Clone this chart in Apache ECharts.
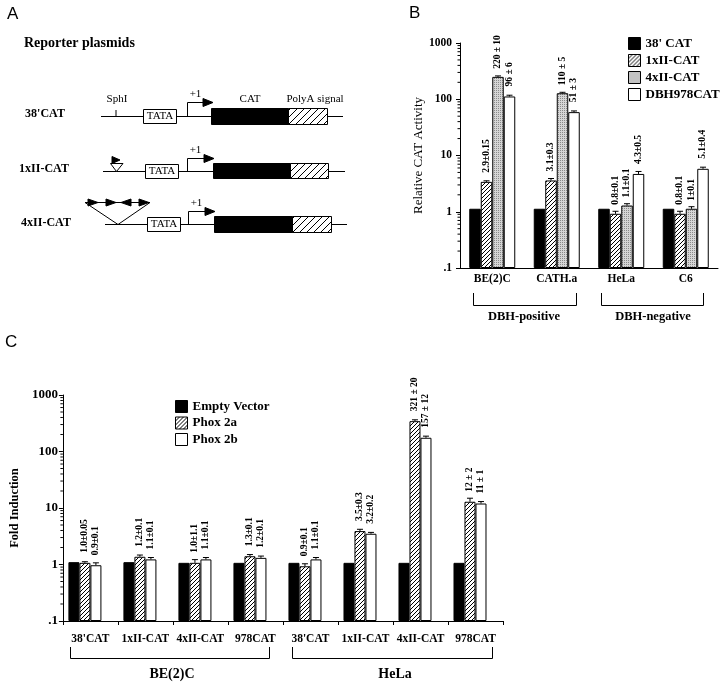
<!DOCTYPE html>
<html><head><meta charset="utf-8">
<script src="https://cdn.jsdelivr.net/npm/echarts@6/dist/echarts.min.js"></script>
<style>html,body{margin:0;padding:0;background:#fff}#c{width:720px;height:683px}</style>
</head><body><div id="c"></div>
<script>
// ---------- Panel B data ----------
const bCategories = ['BE(2)C', 'CATH.a', 'HeLa', 'C6'];
const bSeriesNames = ["38' CAT", '1xII-CAT', '4xII-CAT', 'DBH978CAT'];
const b38CAT = [1.13, 1.13, 1.13, 1.13];
const b1xII = [3.4, 3.6, 0.92, 0.92];
const b4xII = [250, 128, 1.29, 1.13];
const bDBH978 = [112, 59, 4.7, 5.8];
const b1xIIErr = [0.15, 0.3, 0.1, 0.1];
const b4xIIErr = [10, 5, 0.1, 0.1];
const bDBH978Err = [6, 3, 0.5, 0.4];
const b1xIILabels = ['2.9±0.15', '3.1±0.3', '0.8±0.1', '0.8±0.1'];
const b4xIILabels = ['220 ± 10', '110 ± 5', '1.1±0.1', '1±0.1'];
const bDBH978Labels = ['96 ± 6', '51 ± 3', '4.3±0.5', '5.1±0.4'];
const bGroups = ['DBH-positive', 'DBH-negative'];

// ---------- Panel C data ----------
const cCategories = ["38'CAT", '1xII-CAT', '4xII-CAT', '978CAT', "38'CAT", '1xII-CAT', '4xII-CAT', '978CAT'];
const cSeriesNames = ['Empty Vector', 'Phox 2a', 'Phox 2b'];
const cEmpty = [1.1, 1.1, 1.07, 1.07, 1.07, 1.07, 1.07, 1.07];
const cPhox2a = [1.07, 1.37, 1.07, 1.4, 0.93, 3.9, 344, 12.9];
const cPhox2b = [0.97, 1.23, 1.23, 1.31, 1.23, 3.5, 175, 12.0];
const cPhox2aErr = [0.05, 0.1, 0.15, 0.1, 0.1, 0.3, 20, 2];
const cPhox2bErr = [0.1, 0.1, 0.1, 0.1, 0.1, 0.2, 12, 1];
const cPhox2aLabels = ['1.0±0.05', '1.2±0.1', '1.0±1.1', '1.3±0.1', '0.9±0.1', '3.5±0.3', '321 ± 20', '12 ± 2'];
const cPhox2bLabels = ['0.9±0.1', '1.1±0.1', '1.1±0.1', '1.2±0.1', '1.1±0.1', '3.2±0.2', '157 ± 12', '11 ± 1'];
const cGroups = ['BE(2)C', 'HeLa'];

// ---------- Axis ticks ----------
const logTickLabels = {0.1: '.1', 1: '1', 10: '10', 100: '100', 1000: '1000'};

const SERIF = '"Liberation Serif", "Times New Roman", serif';

function hatch(size, lw) {
  const c = document.createElement('canvas'); c.width = c.height = size;
  const g = c.getContext('2d');
  g.fillStyle = '#fff'; g.fillRect(0, 0, size, size);
  g.strokeStyle = '#000'; g.lineWidth = lw;
  g.beginPath();
  g.moveTo(0, size); g.lineTo(size, 0);
  g.moveTo(-2, 2); g.lineTo(2, -2);
  g.moveTo(size - 2, size + 2); g.lineTo(size + 2, size - 2);
  g.stroke();
  return c;
}
function dots() {
  const c = document.createElement('canvas'); c.width = c.height = 2;
  const g = c.getContext('2d');
  g.fillStyle = '#d6d6d6'; g.fillRect(0, 0, 2, 2);
  g.fillStyle = '#8a8a8a'; g.fillRect(0, 0, 1, 1);
  return c;
}
const hatchFill = {image: hatch(4, 1), repeat: 'repeat'};
const dotFill = {image: dots(), repeat: 'repeat'};
const hatchBig = {image: hatch(7, 1), repeat: 'repeat'};

function barSeries(name, xi, yi, data, fill, labels, dist, width) {
  const s = {
    name, type: 'bar', xAxisIndex: xi, yAxisIndex: yi, data,
    barWidth: width, barGap: '0%',
    itemStyle: {color: fill, borderColor: '#000', borderWidth: 1},
    emphasis: {disabled: true}
  };
  if (labels) {
    s.label = {
      show: true, position: 'top', distance: dist, rotate: 90,
      align: 'left', verticalAlign: 'middle',
      fontFamily: SERIF, fontWeight: 'bold', fontSize: 9.5, color: '#000',
      formatter: p => labels[p.dataIndex]
    };
  }
  return s;
}
function errSeries(xi, yi, values, errs, slot, nSlots, bw) {
  return {
    type: 'custom', xAxisIndex: xi, yAxisIndex: yi, silent: true, z: 5,
    data: values.map((v, i) => [i, v, errs[i]]),
    renderItem(params, api) {
      const i = api.value(0), v = api.value(1), e = api.value(2);
      const c = api.coord([i, v]);
      const x = c[0] + (slot - (nSlots - 1) / 2) * bw;
      const top = api.coord([i, v + e])[1];
      return {type: 'group', children: [
        {type: 'line', shape: {x1: x, y1: top, x2: x, y2: c[1]}, style: {stroke: '#000', lineWidth: 1}},
        {type: 'line', shape: {x1: x - 3, y1: top, x2: x + 3, y2: top}, style: {stroke: '#000', lineWidth: 1}}
      ]};
    }
  };
}
function minorTicks(xi, yi) {
  const vals = [];
  [0.1, 1, 10, 100].forEach(d => { for (let m = 2; m <= 9; m++) vals.push([0, d * m]); });
  return {
    type: 'custom', xAxisIndex: xi, yAxisIndex: yi, silent: true, z: 6, data: vals,
    renderItem(params, api) {
      const p = api.coord([0, api.value(1)]);
      const x0 = p[0] - api.size([1, 0])[0] / 2;
      return {type: 'line', shape: {x1: x0 - 2.5, y1: p[1], x2: x0, y2: p[1]}, style: {stroke: '#000', lineWidth: 1}};
    }
  };
}

function yAxisCfg(gi, fontSize, margin, name, nameGap, nameBold, nameSize) {
  return {
    gridIndex: gi, type: 'log', logBase: 10, min: 0.1, max: 1000, startValue: 0.1,
    axisLine: {show: true, lineStyle: {color: '#000', width: 1}},
    axisTick: {show: true, length: 4, lineStyle: {color: '#000'}},
    splitLine: {show: false},
    axisLabel: {color: '#000', fontFamily: SERIF, fontWeight: 'bold', fontSize, margin,
      formatter: v => logTickLabels[Math.round(v * 10) / 10] || ''},
    name, nameLocation: 'middle', nameGap, nameRotate: 90,
    nameTextStyle: {color: '#000', fontFamily: SERIF, fontWeight: nameBold ? 'bold' : 'normal', fontSize: nameSize}
  };
}

// ---------- graphic helpers ----------
const G = [];
function txt(text, x, y, size, bold, align, family) {
  G.push({type: 'text', silent: true, style: {text, x, y, fill: '#000',
    font: (bold ? 'bold ' : '') + size + 'px ' + (family || SERIF),
    textAlign: align || 'center', textVerticalAlign: 'middle', align: align || 'center', verticalAlign: 'middle'}});
}
function ln(pts, dash) {
  G.push({type: 'polyline', silent: true, shape: {points: pts}, style: {stroke: '#000', fill: null, lineWidth: 1, lineDash: dash || null}});
}
function poly(pts, fill) {
  G.push({type: 'polygon', silent: true, shape: {points: pts}, style: {stroke: '#000', fill, lineWidth: 1}});
}
function rect(x, y, w, h, fill) {
  G.push({type: 'rect', silent: true, shape: {x, y, width: w, height: h}, style: {stroke: '#000', fill, lineWidth: 1}});
}

// Panel letters
txt('A', 7, 14, 17, false, 'left', 'Liberation Sans, Arial, sans-serif');
txt('B', 409, 13, 17, false, 'left', 'Liberation Sans, Arial, sans-serif');
txt('C', 5, 342, 17, false, 'left', 'Liberation Sans, Arial, sans-serif');

// Panel A diagram
txt('Reporter plasmids', 24, 43, 14, true, 'left');
function promoter(xv, y, yTop, headEnd) {
  ln([[xv, y], [xv, yTop], [headEnd - 9, yTop]]);
  poly([[headEnd - 10, yTop - 4], [headEnd, yTop], [headEnd - 10, yTop + 4]], '#000');
  txt('+1', xv + 8, yTop - 8, 11, false);
}
// row 1
txt("38'CAT", 45, 114, 12, true);
ln([[101, 116.5], [343, 116.5]]);
ln([[116, 110], [116, 116.5]]);
txt('SphI', 117, 99, 11, false);
rect(143.5, 109.5, 33, 14, '#fff'); txt('TATA', 160, 116.5, 11, false);
promoter(187.5, 116.5, 102.5, 213);
rect(211.5, 108.5, 77, 16, '#000');
rect(288.5, 108.5, 39, 16, hatchBig);
txt('CAT', 250, 99, 11, false);
txt('PolyA signal', 315, 99, 11, false);
// row 2
txt('1xII-CAT', 44, 169, 12, true);
ln([[103, 171.5], [345, 171.5]]);
poly([[110.5, 163.5], [123, 163.5], [116.5, 171.5]], '#fff');
poly([[112, 156.5], [120, 160], [112, 163.5]], '#000');
rect(145.5, 164.5, 33, 14, '#fff'); txt('TATA', 162, 171.5, 11, false);
promoter(187.5, 171.5, 158.5, 214);
rect(213.5, 163.5, 77, 15, '#000');
rect(290.5, 163.5, 38, 15, hatchBig);
// row 3
txt('4xII-CAT', 46, 223, 12, true);
ln([[105, 224.5], [347, 224.5]]);
ln([[85, 202.5], [118, 224.5], [150, 202.5]]);
ln([[85, 202.5], [150, 202.5]]);
poly([[88, 199], [98, 202.5], [88, 206]], '#000');
poly([[106, 199], [116, 202.5], [106, 206]], '#000');
poly([[131, 199], [121, 202.5], [131, 206]], '#000');
poly([[139, 199], [149, 202.5], [139, 206]], '#000');
rect(147.5, 217.5, 33, 14, '#fff'); txt('TATA', 164, 224.5, 11, false);
promoter(188.5, 224.5, 211.5, 215);
rect(214.5, 216.5, 78, 16, '#000');
rect(292.5, 216.5, 39, 16, hatchBig);

// Panel B group brackets
ln([[473.5, 293], [473.5, 305.5], [576.5, 305.5], [576.5, 293]]);
ln([[601.5, 293], [601.5, 305.5], [703.5, 305.5], [703.5, 293]]);
txt(bGroups[0], 524, 317, 12.5, true);
txt(bGroups[1], 653, 317, 12.5, true);
// Panel C group brackets
ln([[70.5, 647], [70.5, 658.5], [269.5, 658.5], [269.5, 647]]);
ln([[292.5, 647], [292.5, 658.5], [492.5, 658.5], [492.5, 647]]);
txt(cGroups[0], 172, 674, 14, true);
txt(cGroups[1], 395, 674, 14, true);

const option = {
  animation: false,
  backgroundColor: '#fff',
  grid: [
    {left: 460, top: 43, width: 258, height: 225},
    {left: 59, top: 395, width: 444, height: 226}
  ],
  xAxis: [
    {gridIndex: 0, type: 'category', data: bCategories,
      axisLine: {lineStyle: {color: '#000', width: 1}}, axisTick: {show: false},
      axisLabel: {color: '#000', fontFamily: SERIF, fontWeight: 'bold', fontSize: 11.5, margin: 5, interval: 0}},
    {gridIndex: 1, type: 'category', data: cCategories.map((c, i) => String(i)),
      axisLine: {lineStyle: {color: '#000', width: 1}},
      axisTick: {show: true, length: 4, interval: 0, lineStyle: {color: '#000'}},
      axisLabel: {color: '#000', fontFamily: SERIF, fontWeight: 'bold', fontSize: 11.5, margin: 12, interval: 0,
        formatter: (v, i) => cCategories[i]}}
  ],
  yAxis: [
    yAxisCfg(0, 11.5, 8, 'Relative CAT Activity', 31, false, 13),
    yAxisCfg(1, 13, 5, 'Fold Induction', 39, true, 12.5)
  ],
  legend: [
    {data: bSeriesNames, orient: 'vertical', left: 628, top: 37, padding: 0, itemWidth: 12, itemHeight: 12, itemGap: 4,
      icon: 'rect', selectedMode: false,
      itemStyle: {borderColor: '#000', borderWidth: 1},
      textStyle: {color: '#000', fontFamily: SERIF, fontWeight: 'bold', fontSize: 13, lineHeight: 12}},
    {data: cSeriesNames, orient: 'vertical', left: 175, top: 400, padding: 0, itemWidth: 12, itemHeight: 12, itemGap: 3.5,
      icon: 'rect', selectedMode: false,
      itemStyle: {borderColor: '#000', borderWidth: 1},
      textStyle: {color: '#000', fontFamily: SERIF, fontWeight: 'bold', fontSize: 13, lineHeight: 12}}
  ],
  series: [
    barSeries(bSeriesNames[0], 0, 0, b38CAT, '#000', null, 0, 11.5),
    barSeries(bSeriesNames[1], 0, 0, b1xII, hatchFill, b1xIILabels, 9, 11.5),
    barSeries(bSeriesNames[2], 0, 0, b4xII, dotFill, b4xIILabels, 8, 11.5),
    barSeries(bSeriesNames[3], 0, 0, bDBH978, '#fff', bDBH978Labels, 10, 11.5),
    errSeries(0, 0, b1xII, b1xIIErr, 1, 4, 11.5),
    errSeries(0, 0, b4xII, b4xIIErr, 2, 4, 11.5),
    errSeries(0, 0, bDBH978, bDBH978Err, 3, 4, 11.5),
    minorTicks(0, 0),
    barSeries(cSeriesNames[0], 1, 1, cEmpty, '#000', null, 0, 11),
    barSeries(cSeriesNames[1], 1, 1, cPhox2a, hatchFill, cPhox2aLabels, 10, 11),
    barSeries(cSeriesNames[2], 1, 1, cPhox2b, '#fff', cPhox2bLabels, 10, 11),
    {name: 'pad', type: 'bar', xAxisIndex: 1, yAxisIndex: 1, barWidth: 11, barGap: '0%',
      data: cCategories.map(() => null), silent: true},
    errSeries(1, 1, cPhox2a, cPhox2aErr, 1, 4, 11),
    errSeries(1, 1, cPhox2b, cPhox2bErr, 2, 4, 11),
    minorTicks(1, 1)
  ],
  graphic: G
};
const chart = echarts.init(document.getElementById('c'), null, {renderer: 'canvas'});
chart.setOption(option);
</script>
</body></html>
